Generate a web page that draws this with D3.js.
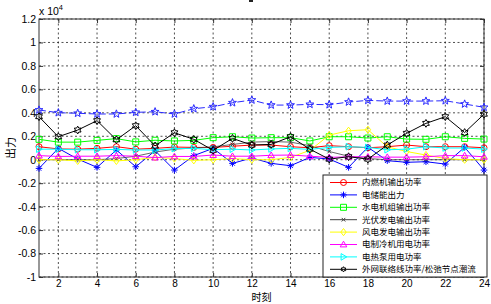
<!DOCTYPE html>
<html><head><meta charset="utf-8">
<script src="https://cdn.jsdelivr.net/npm/d3@7"></script>
<style>
html,body{margin:0;padding:0;background:#fff;}
svg{display:block;}
text{font-family:"Liberation Sans",Arial,sans-serif;}
.cjk{font-family:"Noto Sans CJK SC","Noto Sans",sans-serif;}
</style></head>
<body>
<svg id="chart" width="491" height="304"></svg>
<script>
// ---- data (values shown in units of 10^4) ----
const hours = [1,2,3,4,5,6,7,8,9,10,11,12,13,14,15,16,17,18,19,20,21,22,23,24];
const xTicks = [2,4,6,8,10,12,14,16,18,20,22,24];
const yTicks = [-1,-0.8,-0.6,-0.4,-0.2,0,0.2,0.4,0.6,0.8,1,1.2];
const yTickLabels = ["-1","-0.8","-0.6","-0.4","-0.2","0","0.2","0.4","0.6","0.8","1","1.2"];

const seriesNames = ["内燃机输出功率","电储能出力","水电机组输出功率","光伏发电输出功率","风电发电输出功率","电制冷机用电功率","电热泵用电功率","外网联络线功率/松弛节点潮流"];

const ice     = [0.111,0.092,0.090,0.097,0.111,0.090,0.097,0.108,0.105,0.105,0.115,0.125,0.125,0.111,0.102,0.120,0.111,0.102,0.111,0.125,0.111,0.111,0.111,0.102];
const storage = [-0.074,0.097,0.006,-0.065,0.083,-0.060,0.077,-0.088,0.035,0.097,-0.031,0.015,-0.031,-0.051,0.020,0.006,-0.065,0.106,-0.008,-0.022,-0.017,-0.037,0.106,-0.088];
const hydro   = [0.174,0.150,0.150,0.165,0.180,0.152,0.166,0.160,0.165,0.188,0.196,0.185,0.188,0.188,0.160,0.196,0.196,0.185,0.196,0.176,0.174,0.196,0.182,0.176];
const pv      = [0,0,0,0,0.010,0.030,0.065,0.090,0.100,0.110,0.130,0.150,0.155,0.150,0.120,0.070,0.030,0.010,0,0,0,0,0,0];
const wind    = [0,0,-0.010,0,-0.010,0,0.020,0.010,-0.005,0,0.010,0,0,0.020,0.080,0.210,0.247,0.256,0.110,0.070,0.040,0.010,0,0];
const chiller = [0.035,0.028,0.030,0.030,0.035,0.030,0.018,0.028,0.028,0.040,0.030,0.030,0.038,0.040,0.030,0.020,0.025,0.025,0.022,0.022,0.025,0.035,0.035,0.025];
const heatPump= [0.090,0.090,0.085,0.085,0.088,0.083,0.083,0.095,0.097,0.085,0.090,0.083,0.092,0.097,0.088,0.105,0.111,0.105,0.085,0.090,0.111,0.100,0.100,0.090];
const grid    = [0.367,0.196,0.253,0.333,0.170,0.290,0.118,0.230,0.174,0.080,0.182,0.125,0.131,0.196,0.090,0.005,0.026,0.005,0.125,0.225,0.310,0.367,0.232,0.388];
const load    = [0.424,0.401,0.396,0.390,0.390,0.404,0.409,0.390,0.435,0.452,0.486,0.509,0.466,0.466,0.472,0.469,0.492,0.506,0.500,0.500,0.500,0.503,0.475,0.447];

const seriesColors = ["#ff0000","#0000ff","#00ff00","#404040","#ffff00","#ff00ff","#00ffff","#000000"];
const seriesMarkers = ["circle","asterisk","square","x","diamond","triUp","triRight","hexagram"];
const seriesValues = [ice,storage,hydro,pv,wind,chiller,heatPump,grid];

// ---- layout ----
const svg = d3.select("#chart");
const L = 39, R = 484, T = 19, B = 277;
const x = d3.scaleLinear().domain([1,24]).range([L,R]);
const y = d3.scaleLinear().domain([-1,1.2]).range([B,T]);

function markerPath(type, s){
  const p = d3.path();
  if(type==="circle"){ p.moveTo(s,0); p.arc(0,0,s,0,2*Math.PI); }
  else if(type==="square"){ p.rect(-s,-s,2*s,2*s); }
  else if(type==="diamond"){ p.moveTo(0,-s*1.2); p.lineTo(s*0.9,0); p.lineTo(0,s*1.2); p.lineTo(-s*0.9,0); p.closePath(); }
  else if(type==="triUp"){ p.moveTo(0,-s*1.1); p.lineTo(s*1.1,s*0.8); p.lineTo(-s*1.1,s*0.8); p.closePath(); }
  else if(type==="triRight"){ p.moveTo(s*1.1,0); p.lineTo(-s*0.8,-s*1.1); p.lineTo(-s*0.8,s*1.1); p.closePath(); }
  else if(type==="x"){ const r=s*0.6; p.moveTo(-r,-r); p.lineTo(r,r); p.moveTo(-r,r); p.lineTo(r,-r); }
  else if(type==="asterisk"){ const r=s*1.1, d=r*0.7;
    p.moveTo(-r,0); p.lineTo(r,0); p.moveTo(0,-r); p.lineTo(0,r);
    p.moveTo(-d,-d); p.lineTo(d,d); p.moveTo(-d,d); p.lineTo(d,-d); }
  else if(type==="hexagram" || type==="pentagram"){
    const n = type==="hexagram"?6:5, ro=s*1.3, ri = type==="hexagram"? ro*0.58 : ro*0.42;
    for(let i=0;i<2*n;i++){ const a=-Math.PI/2 + i*Math.PI/n, r=i%2?ri:ro;
      if(i===0) p.moveTo(r*Math.cos(a), r*Math.sin(a)); else p.lineTo(r*Math.cos(a), r*Math.sin(a)); }
    p.closePath(); }
  return p.toString();
}

// grid
const gridG = svg.append("g");
gridG.selectAll("line.gx").data(xTicks).join("line")
  .attr("x1",d=>x(d)).attr("x2",d=>x(d)).attr("y1",T).attr("y2",B)
  .attr("stroke","#222").attr("stroke-width",0.8).attr("stroke-dasharray","2,2.5");
gridG.selectAll("line.gy").data(yTicks).join("line")
  .attr("x1",L).attr("x2",R).attr("y1",d=>y(d)).attr("y2",d=>y(d))
  .attr("stroke","#222").attr("stroke-width",0.8).attr("stroke-dasharray","2,2.5");

// axes
const fmtY = d => yTickLabels[yTicks.indexOf(d)];
const axB = svg.append("g").attr("transform",`translate(0,${B})`)
  .call(d3.axisBottom(x).tickValues(xTicks).tickSize(-4).tickPadding(3).tickFormat(d3.format("d")));
const axT = svg.append("g").attr("transform",`translate(0,${T})`)
  .call(d3.axisTop(x).tickValues(xTicks).tickSize(-4).tickFormat(""));
const axL = svg.append("g").attr("transform",`translate(${L},0)`)
  .call(d3.axisLeft(y).tickValues(yTicks).tickSize(-4).tickPadding(3).tickFormat(fmtY));
const axR = svg.append("g").attr("transform",`translate(${R},0)`)
  .call(d3.axisRight(y).tickValues(yTicks).tickSize(-4).tickFormat(""));
[axB,axT,axL,axR].forEach(g=>{
  g.selectAll("path.domain").remove();
  g.selectAll(".tick line").attr("stroke","#333");
  g.selectAll("text").attr("font-size",10.5).attr("fill","#000")
    .attr("font-family","'Liberation Sans',Arial,sans-serif");
});
axB.selectAll("text").attr("font-size",10);
svg.append("rect").attr("x",L).attr("y",T).attr("width",R-L).attr("height",B-T)
  .attr("fill","none").attr("stroke","#333").attr("stroke-width",1);

// exponent label
const ex = svg.append("text").attr("x",39).attr("y",15).attr("font-size",10.5).attr("fill","#000");
ex.append("tspan").text("x 10");
ex.append("tspan").attr("dy",-5).attr("font-size",7.5).text("4");
// clipped title fragment
svg.append("rect").attr("x",249).attr("y",0).attr("width",4).attr("height",2).attr("fill","#222");

// axis labels
svg.append("text").attr("class","cjk").attr("transform",`translate(15,${(T+B)/2}) rotate(-90)`)
  .attr("text-anchor","middle").attr("font-size",11).attr("fill","#000").text("出力");
svg.append("text").attr("class","cjk").attr("x",(L+R)/2).attr("y",300.8)
  .attr("text-anchor","middle").attr("font-size",10).attr("fill","#000").text("时刻");

// data lines
const line = d3.line().x((d,i)=>x(hours[i])).y(d=>y(d));
const plotG = svg.append("g");

// load curve (dashed, pentagram) – not in legend
plotG.append("path").datum(load).attr("d",line).attr("fill","none")
  .attr("stroke","#2a2aff").attr("stroke-width",1).attr("stroke-dasharray","7,3");
plotG.selectAll("path.ld").data(load).join("path").attr("class","ld")
  .attr("transform",(d,i)=>`translate(${x(hours[i])},${y(d)})`)
  .attr("d",markerPath("pentagram",3.2)).attr("fill","none").attr("stroke","#2a2aff").attr("stroke-width",1);

seriesValues.forEach((vals,k)=>{
  const g = plotG.append("g");
  g.append("path").datum(vals).attr("d",line).attr("fill","none")
    .attr("stroke",seriesColors[k]).attr("stroke-width",k===3?0.8:1);
  g.selectAll("path.m").data(vals).join("path").attr("class","m")
    .attr("transform",(d,i)=>`translate(${x(hours[i])},${y(d)})`)
    .attr("d",markerPath(seriesMarkers[k],3)).attr("fill","none")
    .attr("stroke",seriesColors[k]).attr("stroke-width",1);
});

// legend
const lg = svg.append("g");
const LX0 = 323, LX1 = 487, LY0 = 175, LY1 = 277;
lg.append("rect").attr("x",LX0).attr("y",LY0).attr("width",LX1-LX0).attr("height",LY1-LY0)
  .attr("fill","#fff").attr("stroke","#222").attr("stroke-width",1);
seriesNames.forEach((name,k)=>{
  const cy = 182.5 + k*12.4;
  lg.append("line").attr("x1",330).attr("x2",357).attr("y1",cy).attr("y2",cy)
    .attr("stroke",seriesColors[k]).attr("stroke-width",1);
  lg.append("path").attr("transform",`translate(343.5,${cy})`)
    .attr("d",markerPath(seriesMarkers[k], k===7?2:3)).attr("fill","none")
    .attr("stroke",seriesColors[k]).attr("stroke-width",1);
  lg.append("text").attr("class","cjk").attr("x",362).attr("y",cy).attr("dy","0.35em")
    .attr("font-size",8.5).attr("fill","#000").text(name);
});
</script>
</body></html>
